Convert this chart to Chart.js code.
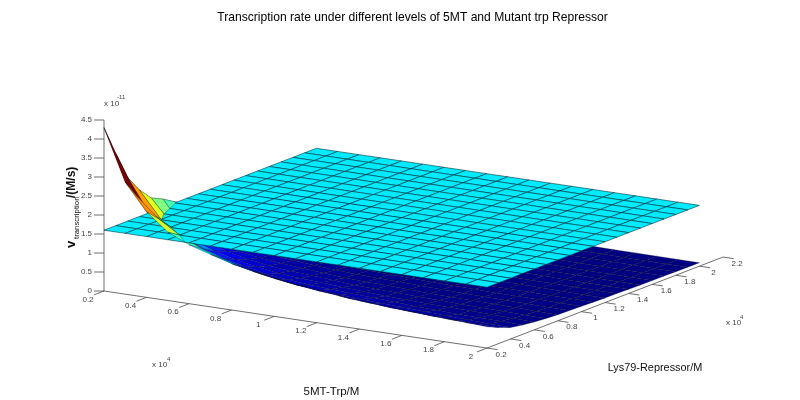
<!DOCTYPE html>
<html>
<head>
<meta charset="utf-8">
<title>Transcription rate</title>
<script src="https://cdn.jsdelivr.net/npm/chart.js@4/dist/chart.umd.js"></script>
<style>
  body { margin: 0; background: #fff; }
  canvas { display: block; }
</style>
</head>
<body>
<canvas id="chart" width="800" height="400"></canvas>
<script>
// grid of the two surfaces, in units of 1e-4 M
const trpGrid = [0.2, 0.3, 0.4, 0.5, 0.6, 0.7, 0.8, 0.9, 1.0, 1.1, 1.2, 1.3, 1.4, 1.5, 1.6, 1.7, 1.8, 1.9, 2.0];
const repressorGrid = [0.2, 0.3, 0.4, 0.5, 0.6, 0.7, 0.8, 0.9, 1.0, 1.1, 1.2, 1.3, 1.4, 1.5, 1.6, 1.7, 1.8, 1.9, 2.0];

// upper flat surface, in units of 1e-11 M/s
const flatRate = 1.6;

// lower surface, one row per repressor level, in units of 1e-11 M/s
const mutantRate = [
  [4.3, 2.95, 2.25, 1.8, 1.55, 1.38, 1.22, 1.1, 1.0, .92, .85, .8, .75, .71, .68, .65, .62, .59, .56],
  [3.5, 2.45, 1.95, 1.6, 1.33, 1.15, 1.0, .88, .79, .73, .67, .6, .56, .52, .49, .46, .44, .43, .42],
  [2.75, 1.9, 1.62, 1.3, 1.05, .88, .77, .67, .58, .53, .49, .46, .43, .41, .38, .36, .34, .32, .3],
  [2.3, 1.62, 1.25, 1.0, .82, .7, .58, .52, .47, .44, .41, .38, .35, .32, .3, .28, .27, .26, .25],
  [1.97, 1.35, 1.02, .82, .68, .57, .49, .44, .41, .37, .34, .31, .29, .27, .26, .25, .24, .22, .21],
  [1.82, 1.13, .86, .7, .57, .48, .43, .39, .35, .31, .29, .27, .25, .24, .22, .21, .2, .19, .18],
  [1.63, .98, .75, .58, .49, .43, .38, .34, .3, .27, .26, .24, .22, .21, .2, .19, .18, .17, .16],
  [1.45, .87, .67, .52, .44, .39, .34, .3, .27, .25, .24, .22, .2, .19, .18, .17, .16, .155, .15],
  [1.3, .79, .58, .47, .41, .35, .3, .27, .25, .23, .21, .19, .18, .17, .16, .155, .15, .145, .14],
  [1.2, .73, .53, .44, .37, .31, .27, .25, .23, .21, .19, .18, .17, .16, .15, .145, .14, .135, .13],
  [1.1, .67, .49, .41, .34, .29, .26, .24, .21, .19, .18, .165, .155, .15, .145, .14, .13, .125, .12],
  [1.0, .6, .46, .38, .31, .27, .24, .22, .19, .18, .165, .155, .15, .14, .135, .13, .125, .12, .118],
  [.93, .56, .43, .35, .29, .25, .22, .2, .18, .17, .155, .15, .14, .135, .13, .12, .118, .115, .11],
  [.87, .52, .41, .32, .27, .24, .21, .19, .17, .16, .15, .14, .135, .13, .12, .115, .11, .108, .105],
  [.82, .49, .38, .3, .26, .22, .2, .18, .16, .15, .14, .135, .13, .12, .115, .11, .105, .103, .1],
  [.77, .46, .36, .28, .25, .21, .19, .17, .155, .145, .135, .13, .12, .115, .11, .105, .102, .1, .098],
  [.72, .44, .34, .27, .24, .2, .18, .16, .15, .14, .13, .125, .118, .11, .105, .102, .1, .097, .095],
  [.68, .43, .32, .26, .22, .19, .17, .155, .145, .135, .125, .12, .115, .108, .103, .1, .097, .094, .092],
  [.64, .42, .3, .25, .21, .18, .16, .15, .14, .13, .12, .118, .11, .105, .1, .098, .095, .092, .09]
];

const trpTicks = [0.2, 0.4, 0.6, 0.8, 1, 1.2, 1.4, 1.6, 1.8, 2];
const repressorTicks = [0.2, 0.4, 0.6, 0.8, 1, 1.2, 1.4, 1.6, 1.8, 2, 2.2];
const rateTicks = [0, 0.5, 1, 1.5, 2, 2.5, 3, 3.5, 4, 4.5];

// rate -> position on the jet map
const colorRates = [.09, .3, .5, .8, 1.0, 1.15, 1.38, 1.6, 1.8, 1.97, 2.25, 2.75, 2.95, 3.5, 4.3];
const colorStops = [0, .012, .05, .1, .15, .2, .33, .355, .44, .5, .58, .72, .74, .96, 1];

// fixed 3d view, the reference is an orthographic matlab surf
function project(t, r, z) {
  return {
    x: 104 + (t - 0.2) * 212.8 + (r - 0.2) * 118,
    y: 291 + (t - 0.2) * 31.7 - (r - 0.2) * 45.5 - z * 38
  };
}

function jet(z) {
  let k = 0;
  while (k < colorRates.length - 2 && z > colorRates[k + 1]) k++;
  const f = (z - colorRates[k]) / (colorRates[k + 1] - colorRates[k]);
  const v = colorStops[k] + f * (colorStops[k + 1] - colorStops[k]);
  const ramp = (c) => Math.round(255 * Math.max(0, Math.min(1, 1.5 - Math.abs(4 * v - c))));
  return `rgb(${ramp(3)},${ramp(2)},${ramp(1)})`;
}

// part of a cell that sticks out above the flat surface
function clipAbove(cell, level) {
  const out = [];
  cell.forEach((p, i) => {
    const q = cell[(i + 1) % cell.length];
    if (p.z >= level) out.push(p);
    if ((p.z >= level) !== (q.z >= level)) {
      const k = (level - p.z) / (q.z - p.z);
      out.push({ t: p.t + k * (q.t - p.t), r: p.r + k * (q.r - p.r), z: level });
    }
  });
  return out;
}

const polygon = (cell, color, edge, width) => {
  const pts = cell.map((p) => project(p.t, p.r, p.z));
  pts.push(pts[0]);
  return {
    data: pts, showLine: true, pointRadius: 0, tension: 0, clip: false,
    fill: 'shape', backgroundColor: color,
    borderColor: edge, borderWidth: width
  };
};

const axisLine = (pts, color) => ({
  data: pts, showLine: true, pointRadius: 0, tension: 0, clip: false, fill: false,
  borderColor: color, borderWidth: 0.8
});

function buildDatasets() {
  const list = []; // in paint order, flipped at the end
  const axisColor = '#4a4a4a';

  list.push(axisLine([project(0.2, 0.2, 0), project(2, 0.2, 0)], axisColor));
  list.push(axisLine([project(2, 0.2, 0), project(2, 2.2, 0)], axisColor));
  list.push(axisLine([project(0.2, 0.2, 0), project(0.2, 0.2, 4.5)], axisColor));
  trpTicks.forEach((t) => {
    list.push(axisLine([project(t, 0.2, 0), project(t, 0.115, 0)], axisColor));
  });
  repressorTicks.forEach((r) => {
    list.push(axisLine([project(2, r, 0), project(2.05, r, 0)], axisColor));
  });
  rateTicks.forEach((z) => {
    const a = project(0.2, 0.2, z);
    list.push(axisLine([a, { x: a.x - 10, y: a.y }], axisColor));
  });

  const cells = [];
  for (let j = repressorGrid.length - 2; j >= 0; j--) {
    for (let i = 0; i < trpGrid.length - 1; i++) {
      cells.push({
        i, j,
        corners: [
          { t: trpGrid[i], r: repressorGrid[j], z: mutantRate[j][i] },
          { t: trpGrid[i + 1], r: repressorGrid[j], z: mutantRate[j][i + 1] },
          { t: trpGrid[i + 1], r: repressorGrid[j + 1], z: mutantRate[j + 1][i + 1] },
          { t: trpGrid[i], r: repressorGrid[j + 1], z: mutantRate[j + 1][i] }
        ]
      });
    }
  }

  const lowerEdge = 'rgba(0,0,30,0.45)';
  const peakEdge = 'rgba(0,10,10,0.6)';
  const flatEdge = 'rgba(0,50,60,0.75)';

  // lower surface, then the flat one over it, then what pokes through
  cells.forEach((c) => list.push(polygon(c.corners, jet(mutantRate[c.j][c.i]), lowerEdge, 0.6)));
  for (let j = repressorGrid.length - 2; j >= 0; j--) {
    for (let i = 0; i < trpGrid.length - 1; i++) {
      list.push(polygon([
        { t: trpGrid[i], r: repressorGrid[j], z: flatRate },
        { t: trpGrid[i + 1], r: repressorGrid[j], z: flatRate },
        { t: trpGrid[i + 1], r: repressorGrid[j + 1], z: flatRate },
        { t: trpGrid[i], r: repressorGrid[j + 1], z: flatRate }
      ], jet(flatRate), flatEdge, 0.8));
    }
  }
  cells.forEach((c) => {
    const part = clipAbove(c.corners, flatRate);
    if (part.length > 2) list.push(polygon(part, jet(mutantRate[c.j][c.i]), peakEdge, 0.5));
  });

  return list.reverse();
}

const textPlugin = {
  id: 'surfaceText',
  afterDraw(chart) {
    const ctx = chart.ctx;
    const sx = chart.scales.x;
    const sy = chart.scales.y;
    const put = (str, x, y, font, color, align) => {
      ctx.font = font;
      ctx.fillStyle = color;
      ctx.textAlign = align || 'center';
      ctx.textBaseline = 'middle';
      ctx.fillText(str, sx.getPixelForValue(x), sy.getPixelForValue(y));
    };
    const sans = '"Liberation Sans", Arial, sans-serif';
    const tickFont = `8px ${sans}`;
    const tickColor = '#444';

    put('Transcription rate under different levels of 5MT and Mutant trp Repressor', 412.5, 18, `12.1px ${sans}`, '#000');
    put('5MT-Trp/M', 331.5, 392, `11.5px ${sans}`, '#111');
    put('Lys79-Repressor/M', 655, 368, `10.9px ${sans}`, '#111');

    trpTicks.forEach((t) => {
      const a = project(t, 0.2, 0);
      put(String(t), a.x - 16, a.y + 8.5, tickFont, tickColor);
    });
    repressorTicks.forEach((r) => {
      const a = project(2, r, 0);
      put(String(r), a.x + 14, a.y + 6.5, tickFont, tickColor);
    });
    rateTicks.forEach((z) => {
      const a = project(0.2, 0.2, z);
      put(String(z), a.x - 12, a.y, tickFont, tickColor, 'right');
    });

    put('x 10', 104, 104, tickFont, tickColor, 'left');
    put('-11', 117, 97, `6px ${sans}`, tickColor, 'left');
    put('x 10', 152, 365, tickFont, tickColor, 'left');
    put('4', 167, 359, `6px ${sans}`, tickColor, 'left');
    put('x 10', 726, 323, tickFont, tickColor, 'left');
    put('4', 740, 317, `6px ${sans}`, tickColor, 'left');

    // rotated z label with its subscript
    ctx.save();
    ctx.translate(sx.getPixelForValue(72), sy.getPixelForValue(248));
    ctx.rotate(-Math.PI / 2);
    ctx.fillStyle = '#111';
    ctx.textAlign = 'left';
    ctx.textBaseline = 'alphabetic';
    ctx.font = `bold 13px ${sans}`;
    ctx.fillText('v', 0, 3);
    ctx.font = `7.8px ${sans}`;
    ctx.fillText('transcription', 9, 7);
    ctx.font = `bold 12px ${sans}`;
    ctx.fillText('/(M/s)', 50, 3);
    ctx.restore();
  }
};

new Chart(document.getElementById('chart'), {
  type: 'scatter',
  data: { datasets: buildDatasets() },
  plugins: [textPlugin],
  options: {
    responsive: false,
    animation: false,
    devicePixelRatio: 1,
    events: [],
    layout: { padding: 0 },
    plugins: { legend: { display: false }, tooltip: { enabled: false } },
    scales: {
      x: { type: 'linear', display: false, min: 0, max: 800 },
      y: { type: 'linear', display: false, min: 0, max: 400, reverse: true }
    }
  }
});
</script>
</body>
</html>
